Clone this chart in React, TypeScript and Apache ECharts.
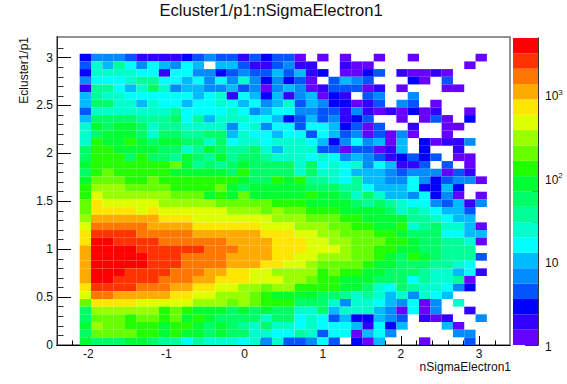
import React, { useEffect, useRef } from "react";
import * as echarts from "echarts";

const chartTitle = "Ecluster1/p1:nSigmaElectron1";
const xTitle = "nSigmaElectron1";
const yTitle = "Ecluster1/p1";
const xMajor = [-2, -1, 0, 1, 2, 3];
const xMinor = [-2.2,-1.8,-1.6,-1.4,-1.2,-0.8,-0.6,-0.4,-0.2,0.2,0.4,0.6,0.8,1.2,1.4,1.6,1.8,2.2,2.4,2.6,2.8,3.2];
const yMajor = [0, 0.5, 1, 1.5, 2, 2.5, 3];
const yMinor = [0.1,0.2,0.3,0.4,0.6,0.7,0.8,0.9,1.1,1.2,1.3,1.4,1.6,1.7,1.8,1.9,2.1,2.2,2.3,2.4,2.6,2.7,2.8,2.9,3.1];
const zMajor = [1, 10, 100, 1000];
const zMinor = [2,3,4,5,6,7,8,9,20,30,40,50,60,70,80,90,200,300,400,500,600,700,800,900,2000,3000,4000];

const bandColors = ["#6600ff","#3300ff","#0000ff","#0055ff","#008cff","#00bbff","#00ffff","#00ffcc","#00ff99","#00ff66","#00ff33","#22ff00","#66ff00","#99ff00","#ddff00","#ffe600","#ffaa00","#ff7700","#ff3300","#ff0000"];
const bandEdges = [1,1.528,2.333,3.565,5.445,8.318,12.71,19.41,29.65,45.29,69.18,105.7,161.4,246.6,376.7,575.4,879,1343,2051,3133,4786];
// Representative count of each colour band.
const bandCounts = [1,2,3,4,7,10,16,24,37,56,86,131,199,305,466,711,1086,1660,2535,3870];

const binX0 = -2.11;
const binW = 0.1447;
const binH = 0.08;

// Colour band per cell, top row first; -1 is an empty cell.
const r00 = [2,4,4,4,3,1,1,1,1,2,3,4,3,3,1,3,2,3,3,0,-1,0,-1,0,-1,-1,0,-1,-1,0,-1,-1,-1,-1,-1,0];
const r01 = [3,7,5,8,6,4,6,5,4,6,5,-1,5,5,3,1,1,3,4,1,1,-1,-1,1,0,0,-1,-1,-1,-1,-1,-1,-1,-1,0,-1];
const r02 = [2,7,7,7,7,6,6,1,6,6,4,4,2,3,4,3,3,5,3,5,1,2,-1,0,0,2,3,-1,1,0,0,1,0,-1,-1,-1];
const r03 = [4,6,6,6,7,8,8,6,6,5,6,4,6,4,7,4,2,4,2,3,0,-1,3,5,4,3,-1,-1,-1,2,0,-1,3,-1,-1,-1];
const r04 = [1,8,8,6,5,7,9,7,4,5,5,4,4,5,3,4,0,4,5,4,0,1,3,3,3,0,1,-1,0,-1,-1,-1,0,0,-1,-1];
const r05 = [5,8,7,7,6,6,6,6,6,6,5,6,7,1,6,5,2,5,1,4,5,0,2,1,-1,3,4,-1,-1,4,-1,-1,-1,-1,-1,-1];
const r06 = [5,9,9,7,7,5,7,6,6,5,6,6,7,6,5,6,4,5,7,3,5,4,2,2,0,1,3,-1,4,3,-1,0,-1,-1,-1,-1];
const r07 = [3,7,7,7,7,7,7,7,8,6,6,6,6,7,6,4,5,6,6,4,4,3,3,1,4,1,0,1,0,2,0,1,-1,-1,0,-1];
const r08 = [5,9,9,9,9,8,8,8,9,6,8,5,7,7,7,6,6,5,2,3,5,3,4,1,2,3,-1,-1,0,-1,0,3,0,-1,2,-1];
const r09 = [7,10,9,10,10,9,7,8,8,7,7,7,7,4,6,7,4,6,6,3,6,6,5,2,3,0,3,-1,-1,1,-1,-1,0,0,-1,-1];
const r10 = [7,9,10,10,10,9,7,9,9,8,8,9,9,5,7,6,6,5,6,6,3,6,5,3,4,0,3,0,4,0,-1,-1,0,-1,-1,-1];
const r11 = [7,11,10,10,11,10,9,10,10,9,9,7,9,6,7,7,6,7,7,7,6,5,2,4,6,4,5,0,5,-1,2,0,1,1,4,-1];
const r12 = [9,11,11,10,10,10,10,9,9,7,8,10,9,8,8,9,7,5,7,7,7,3,3,0,3,3,0,1,5,-1,2,-1,-1,1,-1,-1];
const r13 = [9,11,11,11,9,11,9,9,8,10,9,8,10,8,9,9,8,7,7,7,6,7,6,4,5,4,3,1,2,3,2,3,-1,0,0,-1];
const r14 = [10,11,11,11,11,11,11,11,12,10,8,9,8,9,10,9,9,9,9,7,9,6,7,6,7,4,6,5,1,1,3,-1,3,-1,0,-1];
const r15 = [9,11,12,11,11,11,11,11,10,10,10,10,10,9,11,9,9,9,9,7,9,7,7,6,5,5,5,4,3,4,4,4,0,3,1,-1];
const r16 = [10,12,12,12,11,11,12,11,11,11,11,11,11,11,10,9,9,11,10,11,8,8,7,6,8,5,5,4,4,6,4,2,3,4,4,0];
const r17 = [11,13,13,13,12,12,12,12,11,11,11,11,12,10,9,10,10,10,10,10,9,9,9,8,8,6,5,5,5,6,2,2,5,2,-1,-1];
const r18 = [11,14,13,13,13,13,13,13,12,12,12,10,11,10,12,10,10,10,10,10,11,10,10,9,7,9,7,5,5,4,6,2,4,0,-1,0];
const r19 = [12,15,14,14,14,14,14,13,13,13,13,13,12,12,12,12,12,11,11,11,10,10,10,10,9,8,9,8,7,6,6,4,3,5,1,4];
const r20 = [12,15,15,15,15,14,15,14,14,14,14,14,14,13,13,13,12,13,12,12,11,11,11,10,10,10,10,9,7,8,7,6,5,5,3,-1];
const r21 = [13,16,16,16,16,16,16,15,15,15,14,14,14,14,14,14,14,13,13,13,12,12,12,11,11,10,10,10,10,8,8,7,6,5,5,-1];
const r22 = [14,17,17,17,17,17,16,16,16,16,15,15,15,15,15,15,14,14,14,13,13,13,12,12,11,11,10,10,11,7,8,9,7,7,5,0];
const r23 = [15,18,18,18,18,17,17,17,17,17,16,16,16,16,16,16,15,15,15,14,14,13,13,12,12,12,11,11,10,9,9,9,6,6,5,5];
const r24 = [15,19,19,18,18,18,18,17,17,17,17,17,17,16,16,16,16,15,15,15,14,14,13,13,12,12,12,11,11,10,9,9,8,8,7,0];
const r25 = [16,19,19,19,19,18,18,18,18,18,18,17,17,17,16,16,16,15,15,15,14,14,14,13,12,12,11,11,10,10,9,9,8,8,8,-1];
const r26 = [16,19,19,19,19,19,18,18,18,17,17,17,17,16,16,16,16,15,15,14,14,13,13,13,12,12,11,10,9,11,10,9,8,8,8,3];
const r27 = [16,19,19,19,19,19,18,18,18,17,17,17,17,16,16,16,15,15,14,14,13,12,12,12,12,11,10,10,9,9,9,8,8,7,6,-1];
const r28 = [16,19,19,19,18,18,18,18,17,17,17,16,16,15,15,14,14,13,13,13,13,11,12,11,11,10,10,9,9,9,8,7,7,5,6,1];
const r29 = [16,19,19,18,18,18,18,17,17,17,16,16,15,15,15,14,14,14,13,13,12,11,11,10,10,10,9,9,9,6,8,7,7,8,0,-1];
const r30 = [15,18,18,18,18,17,17,17,16,16,15,15,14,14,13,13,12,13,13,11,11,11,11,10,10,9,7,6,9,8,7,7,6,4,2,-1];
const r31 = [14,17,17,16,16,16,16,16,15,15,14,14,13,13,13,12,11,10,10,10,10,9,9,8,7,8,7,5,7,4,7,6,5,-1,-1,-1];
const r32 = [12,15,15,15,15,14,14,14,14,14,13,13,13,12,13,12,11,11,11,9,9,9,7,4,7,7,6,5,4,6,0,4,-1,7,-1,-1];
const r33 = [9,13,13,13,13,13,13,11,12,11,10,10,10,9,10,9,10,9,9,7,7,9,5,7,7,7,5,4,0,6,0,4,-1,-1,1,-1];
const r34 = [9,12,12,12,11,12,12,11,12,10,11,10,9,9,9,9,7,9,9,6,7,6,3,5,2,2,5,4,3,-1,1,0,1,-1,-1,4];
const r35 = [10,13,12,12,11,11,11,10,11,11,10,9,10,9,8,7,9,7,7,6,7,6,6,6,5,1,6,2,5,-1,-1,-1,5,0,-1,-1];
const r36 = [9,12,12,12,12,11,11,10,11,10,10,9,10,9,9,7,7,6,6,8,7,3,6,6,0,5,6,4,-1,-1,-1,-1,-1,4,4,-1];
const r37 = [10,9,9,9,10,10,9,8,8,6,8,7,7,7,6,7,4,7,3,3,4,6,3,-1,2,0,5,-1,-1,-1,0,-1,-1,-1,3,-1];
const rowsTopDown = [r00,r01,r02,r03,r04,r05,r06,r07,r08,r09,r10,r11,r12,r13,r14,r15,r16,r17,r18,r19,r20,r21,r22,r23,r24,r25,r26,r27,r28,r29,r30,r31,r32,r33,r34,r35,r36,r37];

const font = "Liberation Sans";
const ink = "#111";

function bandOf(count: number) {
  let i = 0;
  while (i < bandColors.length - 1 && count >= bandEdges[i + 1]) i++;
  return i;
}

export default function App() {
  const ref = useRef<HTMLDivElement>(null);
  useEffect(() => {
    document.body.style.margin = "0";
    const chart = echarts.init(ref.current!, null, { renderer: "svg" });
    const cells: number[][] = [];
    rowsTopDown.forEach((row, r) => {
      const yLow = (rowsTopDown.length - 1 - r) * binH;
      row.forEach((band, c) => {
        if (band >= 0) cells.push([binX0 + c * binW, yLow, bandCounts[band]]);
      });
    });
    const barCells = bandColors.map((_, i) => [bandEdges[i], bandEdges[i + 1], i]);
    const xAxisBase = { type: "value", gridIndex: 0, min: -2.4, max: 3.395, position: "bottom", splitLine: { show: false }, axisLine: { show: true, onZero: false, lineStyle: { color: "#000", width: 1 } } };
    const yAxisBase = { type: "value", gridIndex: 0, min: 0, max: 3.215, position: "left", splitLine: { show: false }, axisLine: { show: true, onZero: false, lineStyle: { color: "#222", width: 1 } } };
    const zAxisBase = { type: "log", gridIndex: 1, min: 1, max: 4786, position: "right", splitLine: { show: false }, axisLine: { show: true, onZero: false, lineStyle: { color: "#333", width: 1 } } };
    chart.setOption({
      animation: false,
      backgroundColor: "#fff",
      title: { text: chartTitle, left: 271, top: 2, padding: 0, textAlign: "center", textStyle: { fontFamily: font, fontSize: 16.6, fontWeight: "normal", color: ink } },
      grid: [
        { left: 57, top: 37, width: 453, height: 308, show: true, borderColor: "#707070", borderWidth: 1.5, backgroundColor: "#fff" },
        { left: 513, top: 38, width: 25, height: 307 },
      ],
      xAxis: [
        { ...xAxisBase, axisTick: { customValues: xMajor, inside: true, length: 9, lineStyle: { color: "#000" } }, axisLabel: { customValues: xMajor, margin: 3, fontFamily: font, fontSize: 12, color: ink, formatter: (v: number) => String(v) } },
        { ...xAxisBase, axisTick: { customValues: xMinor, inside: true, length: 4.5, lineStyle: { color: "#000" } }, axisLabel: { show: false } },
        { type: "value", gridIndex: 1, min: 0, max: 1, show: false },
      ],
      yAxis: [
        { ...yAxisBase, axisTick: { customValues: yMajor, inside: true, length: 14, lineStyle: { color: "#000" } }, axisLabel: { customValues: yMajor, margin: 4, fontFamily: font, fontSize: 12, color: ink, formatter: (v: number) => String(v) } },
        { ...yAxisBase, axisTick: { customValues: yMinor, inside: true, length: 6.5, lineStyle: { color: "#333" } }, axisLabel: { show: false } },
        { ...zAxisBase, axisTick: { customValues: zMajor, inside: true, length: 13, lineStyle: { color: "#333" } }, axisLabel: { customValues: zMajor, margin: 7, padding: [3, 0, 0, 0], fontFamily: font, fontSize: 12, color: ink, formatter: (v: number) => (v >= 100 ? `10{sup|${Math.round(Math.log10(v))}}` : String(v)), rich: { sup: { fontSize: 8, fontFamily: font, color: ink, verticalAlign: "top", lineHeight: 16 } } } },
        { ...zAxisBase, axisTick: { customValues: zMinor, inside: true, length: 6, lineStyle: { color: "#333" } }, axisLabel: { show: false } },
      ],
      series: [
        {
          type: "custom",
          coordinateSystem: "cartesian2d",
          xAxisIndex: 0,
          yAxisIndex: 0,
          data: cells,
          silent: true,
          renderItem: (_: any, api: any) => {
            const a = api.coord([api.value(0), api.value(1) + binH]);
            const b = api.coord([api.value(0) + binW, api.value(1)]);
            return { type: "rect", shape: { x: a[0], y: a[1], width: b[0] - a[0], height: b[1] - a[1] }, style: { fill: bandColors[bandOf(api.value(2))], stroke: "none" } };
          },
        },
        {
          type: "custom",
          coordinateSystem: "cartesian2d",
          xAxisIndex: 2,
          yAxisIndex: 2,
          data: barCells,
          silent: true,
          renderItem: (_: any, api: any) => {
            const a = api.coord([0, api.value(1)]);
            const b = api.coord([1, api.value(0)]);
            return { type: "rect", shape: { x: a[0], y: a[1], width: b[0] - a[0], height: b[1] - a[1] }, style: { fill: bandColors[api.value(2)], stroke: "none" } };
          },
        },
      ],
      graphic: [
        { type: "text", x: 511, y: 367, style: { text: xTitle, fontFamily: font, fontSize: 12, fill: ink, textAlign: "right", textVerticalAlign: "middle" } },
        { type: "text", x: 24, y: 37, rotation: Math.PI / 2, style: { text: yTitle, fontFamily: font, fontSize: 12, fill: ink, textAlign: "right", textVerticalAlign: "middle" } },
      ],
    });
    return () => chart.dispose();
  }, []);
  return <div ref={ref} style={{ width: 567, height: 384 }} />;
}
